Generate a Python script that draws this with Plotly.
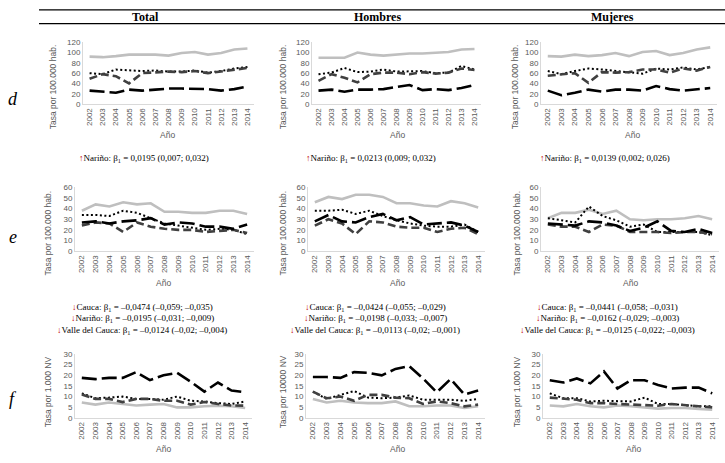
import plotly.graph_objects as go

W, H = 725, 463

# ---------------- data ----------------
years = list(range(2002, 2015))
year_labels = [str(y) for y in years]

col_titles = ["Total", "Hombres", "Mujeres"]
row_letters = ["d", "e", "f"]
series_names = ["Colombia", "Valle del Cauca", "Cauca", "Nariño"]

# Row d (Tasa por 100.000 hab.)
d_total_grey = [92, 91, 93, 96, 96, 96, 94, 99, 101, 96, 99, 106, 108]
d_total_dot = [60, 58, 67, 65, 64, 65, 63, 63, 65, 61, 64, 69, 72]
d_total_dash = [49, 58, 54, 40, 60, 62, 63, 62, 64, 60, 63, 66, 70]
d_total_long = [26, 24, 22, 28, 26, 28, 30, 30, 30, 29, 26, 29, 34]

d_hom_grey = [90, 90, 90, 100, 96, 94, 96, 98, 98, 99, 101, 106, 107]
d_hom_dot = [58, 61, 70, 62, 63, 67, 63, 64, 64, 60, 61, 74, 67]
d_hom_dash = [45, 58, 51, 42, 58, 61, 61, 58, 62, 59, 61, 69, 66]
d_hom_long = [26, 28, 24, 28, 28, 29, 33, 37, 27, 29, 27, 31, 37]

d_muj_grey = [93, 92, 96, 93, 95, 99, 93, 101, 103, 95, 99, 106, 110]
d_muj_dot = [64, 58, 64, 69, 67, 64, 62, 59, 69, 67, 71, 67, 72]
d_muj_dash = [55, 58, 60, 41, 62, 61, 62, 67, 67, 61, 69, 65, 72]
d_muj_long = [26, 17, 22, 28, 24, 28, 28, 26, 35, 29, 26, 29, 31]

# Row e (Tasa por 100.000 hab.)
e_total_grey = [38, 44, 42, 46, 44, 45, 37, 37, 36, 36, 38, 38, 35]
e_total_dot = [34, 34, 33, 38, 36, 31, 26, 24, 22, 20, 21, 20, 16]
e_total_dash = [24, 27, 26, 18, 27, 23, 21, 20, 20, 18, 19, 20, 17]
e_total_long = [27, 28, 26, 28, 29, 31, 25, 27, 26, 23, 23, 21, 25]

e_hom_grey = [46, 51, 49, 53, 53, 51, 45, 45, 43, 42, 47, 45, 41]
e_hom_dot = [38, 38, 39, 35, 38, 33, 29, 26, 24, 23, 23, 25, 18]
e_hom_dash = [24, 30, 26, 16, 28, 27, 23, 22, 22, 18, 21, 22, 16]
e_hom_long = [28, 34, 28, 27, 32, 35, 29, 32, 25, 26, 27, 24, 18]

e_muj_grey = [31, 36, 36, 39, 35, 38, 30, 29, 30, 30, 31, 33, 30]
e_muj_dot = [31, 29, 27, 42, 33, 29, 23, 25, 18, 18, 18, 18, 15]
e_muj_dash = [25, 23, 23, 18, 25, 24, 18, 18, 18, 17, 18, 18, 16]
e_muj_long = [26, 25, 24, 28, 27, 24, 19, 22, 28, 19, 18, 21, 17]

# Row f (Tasa por 1.000 NV)
f_total_grey = [7.2, 6.2, 7.2, 6.5, 5.8, 6.2, 6.5, 4.9, 4.9, 5.4, 5.7, 5.4, 4.6]
f_total_dot = [11.5, 9.2, 9.5, 10.0, 8.9, 8.9, 8.5, 10.0, 8.0, 7.7, 6.9, 6.5, 7.7]
f_total_dash = [11.0, 8.9, 8.9, 7.4, 8.9, 8.9, 8.0, 8.0, 6.2, 7.4, 6.5, 5.8, 5.7]
f_total_long = [18.8, 18.2, 18.8, 18.8, 21.5, 17.7, 20.0, 21.2, 17.0, 12.3, 16.6, 12.8, 12.0]

f_hom_grey = [8.9, 7.2, 8.0, 7.2, 6.9, 6.9, 7.7, 5.4, 5.4, 5.8, 5.8, 4.6, 5.4]
f_hom_dot = [12.3, 8.9, 10.8, 12.6, 9.5, 9.2, 9.5, 10.5, 8.5, 8.5, 8.5, 8.0, 8.9]
f_hom_dash = [12.3, 9.2, 10.0, 8.0, 10.8, 10.8, 9.5, 9.2, 6.5, 7.7, 6.9, 5.4, 6.2]
f_hom_long = [19.2, 19.2, 18.8, 21.5, 21.2, 20.0, 23.0, 24.3, 18.5, 12.0, 18.2, 11.0, 12.8]

f_muj_grey = [5.8, 5.4, 6.5, 5.4, 4.9, 5.8, 5.4, 4.9, 4.3, 4.6, 4.6, 4.2, 3.8]
f_muj_dot = [11.5, 9.2, 9.2, 7.7, 8.0, 7.7, 7.7, 9.5, 6.5, 6.5, 5.8, 5.4, 5.4]
f_muj_dash = [9.5, 8.9, 8.5, 6.9, 6.9, 6.5, 6.2, 6.2, 5.7, 6.5, 5.8, 5.4, 4.9]
f_muj_long = [17.7, 16.6, 18.5, 16.2, 21.8, 13.8, 17.7, 17.7, 15.4, 13.8, 14.2, 14.2, 11.5]

y_titles = {
    ("d", 0): "Tasa por 100.000 hab.", ("d", 1): "Tasa por 100.000 hab.", ("d", 2): "Tasa por 100.000 hab.",
    ("e", 0): "Tasa por 100.000 hab.", ("e", 1): "Tasa por 100.000 hab.", ("e", 2): "Tasa por 100.000 hab.",
    ("f", 0): "Tasa por 1.000 NV", ("f", 1): "Tasa por 10000 NV", ("f", 2): "Tasa por 1.000 NV",
}

e_notes = [
    ["↑|Nariño: β<sub>1</sub> = 0,0195 (0,007; 0,032)"],
    ["↑|Nariño: β<sub>1</sub> = 0,0213 (0,009; 0,032)"],
    ["↑|Nariño: β<sub>1</sub> = 0,0139 (0,002; 0,026)"],
]
f_notes = [
    ["↓|Cauca: β<sub>1</sub> = –0,0474 (–0,059; –0,035)",
     "↓|Nariño: β<sub>1</sub> = –0,0195 (–0,031; –0,009)",
     "↓|Valle del Cauca: β<sub>1</sub> = –0,0124 (–0,02; –0,004)"],
    ["↓|Cauca: β<sub>1</sub> = –0,0424 (–0,055; –0,029)",
     "↓|Nariño: β<sub>1</sub> = –0,0198 (–0,033; –0,007)",
     "↓|Valle del Cauca: β<sub>1</sub> = –0,0113 (–0,02; –0,001)"],
    ["↓|Cauca: β<sub>1</sub> = –0,0441 (–0,058; –0,031)",
     "↓|Nariño: β<sub>1</sub> = –0,0162 (–0,029; –0,003)",
     "↓|Valle del Cauca: β<sub>1</sub> = –0,0125 (–0,022; –0,003)"],
]

panels_data = [
    ("d", 0, [d_total_grey, d_total_dot, d_total_dash, d_total_long]),
    ("d", 1, [d_hom_grey, d_hom_dot, d_hom_dash, d_hom_long]),
    ("d", 2, [d_muj_grey, d_muj_dot, d_muj_dash, d_muj_long]),
    ("e", 0, [e_total_grey, e_total_dot, e_total_dash, e_total_long]),
    ("e", 1, [e_hom_grey, e_hom_dot, e_hom_dash, e_hom_long]),
    ("e", 2, [e_muj_grey, e_muj_dot, e_muj_dash, e_muj_long]),
    ("f", 0, [f_total_grey, f_total_dot, f_total_dash, f_total_long]),
    ("f", 1, [f_hom_grey, f_hom_dot, f_hom_dash, f_hom_long]),
    ("f", 2, [f_muj_grey, f_muj_dot, f_muj_dash, f_muj_long]),
]

# ---------------- layout / styles ----------------
row_cfg = {
    "d": dict(y0=39, y1=102, ymax=120, dtick=20,
              xs=[(83, 254), (312, 481), (541, 717)], ytx=[53, 283, 515], yty=85,
              anx=[167, 397, 632], any=134, lety=97),
    "e": dict(y0=187, y1=252, ymax=60, dtick=10,
              xs=[(75, 254), (308, 485), (541, 719)], ytx=[48, 283, 517], yty=234,
              anx=[163, 397, 630], any=285, lety=238),
    "f": dict(y0=357, y1=422, ymax=30, dtick=5,
              xs=[(75, 252), (306, 485), (543, 719)], ytx=[48, 283, 517], yty=396,
              anx=[163, 397, 633], any=454, lety=403),
}

styles = [
    dict(color="#BFBFBF", width=2.6, dash="solid"),
    dict(color="#000000", width=2.0, dash="2px,2.5px"),
    dict(color="#404040", width=2.6, dash="8px,4px"),
    dict(color="#000000", width=2.6, dash="15px,5px"),
]

SANS = "Liberation Sans, Arial, sans-serif"
SERIF = "Liberation Serif, Times New Roman, serif"
GREY_TXT = "#595959"


def px(x):
    return x / W


def py(y):
    return 1 - y / H


def note(x, y, text, font, **kw):
    d = dict(x=px(x), y=py(y), xref="paper", yref="paper", text=text,
             showarrow=False, xanchor="center", yanchor="middle", font=font)
    d.update(kw)
    return d


fig = go.Figure()
layout = {}
annotations = []
shapes = []

for i, (row, col, series) in enumerate(panels_data, start=1):
    cfg = row_cfg[row]
    x0, x1 = cfg["xs"][col]
    xa = "x" if i == 1 else f"x{i}"
    ya = "y" if i == 1 else f"y{i}"
    for k, vals in enumerate(series):
        fig.add_trace(go.Scatter(
            x=years, y=vals, mode="lines", name=series_names[k],
            line=dict(color=styles[k]["color"], width=styles[k]["width"], dash=styles[k]["dash"]),
            xaxis=xa, yaxis=ya, showlegend=False, hoverinfo="skip"))
    layout["xaxis" if i == 1 else f"xaxis{i}"] = dict(
        domain=[px(x0), px(x1)], anchor=ya, range=[2001.5, 2014.5],
        tickmode="array", tickvals=years, ticktext=year_labels, tickangle=-90,
        tickfont=dict(family=SANS, size=8, color=GREY_TXT),
        showline=True, linecolor="#D9D9D9", linewidth=1, showgrid=False,
        zeroline=False, ticks="", fixedrange=True)
    layout["yaxis" if i == 1 else f"yaxis{i}"] = dict(
        domain=[py(cfg["y1"]), py(cfg["y0"])], anchor=xa, range=[0, cfg["ymax"]],
        dtick=cfg["dtick"], tickfont=dict(family=SANS, size=8, color=GREY_TXT),
        showline=True, linecolor="#D9D9D9", linewidth=1, showgrid=False,
        zeroline=False, ticks="", fixedrange=True)
    annotations.append(note(cfg["ytx"][col], cfg["yty"], y_titles[(row, col)],
                            dict(family=SANS, size=8.5, color=GREY_TXT), textangle=-90))
    annotations.append(note(cfg["anx"][col], cfg["any"], "Año",
                            dict(family=SANS, size=8.5, color=GREY_TXT)))

for row in row_letters:
    annotations.append(note(13, row_cfg[row]["lety"], f"<i>{row}</i>",
                            dict(family=SERIF, size=18, color="#000000")))

col_cx = [145, 378, 612]
for c, t in enumerate(col_titles):
    annotations.append(note(col_cx[c], 13, f"<b>{t}</b>",
                            dict(family=SERIF, size=12, color="#000000")))
for yy in (6, 20):
    shapes.append(dict(type="line", xref="paper", yref="paper",
                       x0=px(39), x1=1, y0=py(yy), y1=py(yy),
                       line=dict(color="#000000", width=1.3)))


def fmt(n):
    arrow, rest = n.split("|", 1)
    return f"<span style='color:#C00000'>{arrow}</span>{rest}"


e_cx = [144, 371, 605]
for c, notes in enumerate(e_notes):
    annotations.append(note(e_cx[c], 158, fmt(notes[0]),
                            dict(family=SERIF, size=9, color="#000000")))

f_cx = [142, 375, 607]
f_ys = [310, 321, 333]
for c, notes in enumerate(f_notes):
    for j, n in enumerate(notes):
        annotations.append(note(f_cx[c], f_ys[j], fmt(n),
                                dict(family=SERIF, size=9, color="#000000")))

fig.update_layout(
    width=W, height=H, margin=dict(l=0, r=0, t=0, b=0),
    paper_bgcolor="white", plot_bgcolor="white",
    annotations=annotations, shapes=shapes, **layout)

fig.write_html(
    "out.html", config={"displayModeBar": False},
    post_script="document.body.style.margin='0';document.body.style.padding='0';"
                "document.body.style.overflow='hidden';")
